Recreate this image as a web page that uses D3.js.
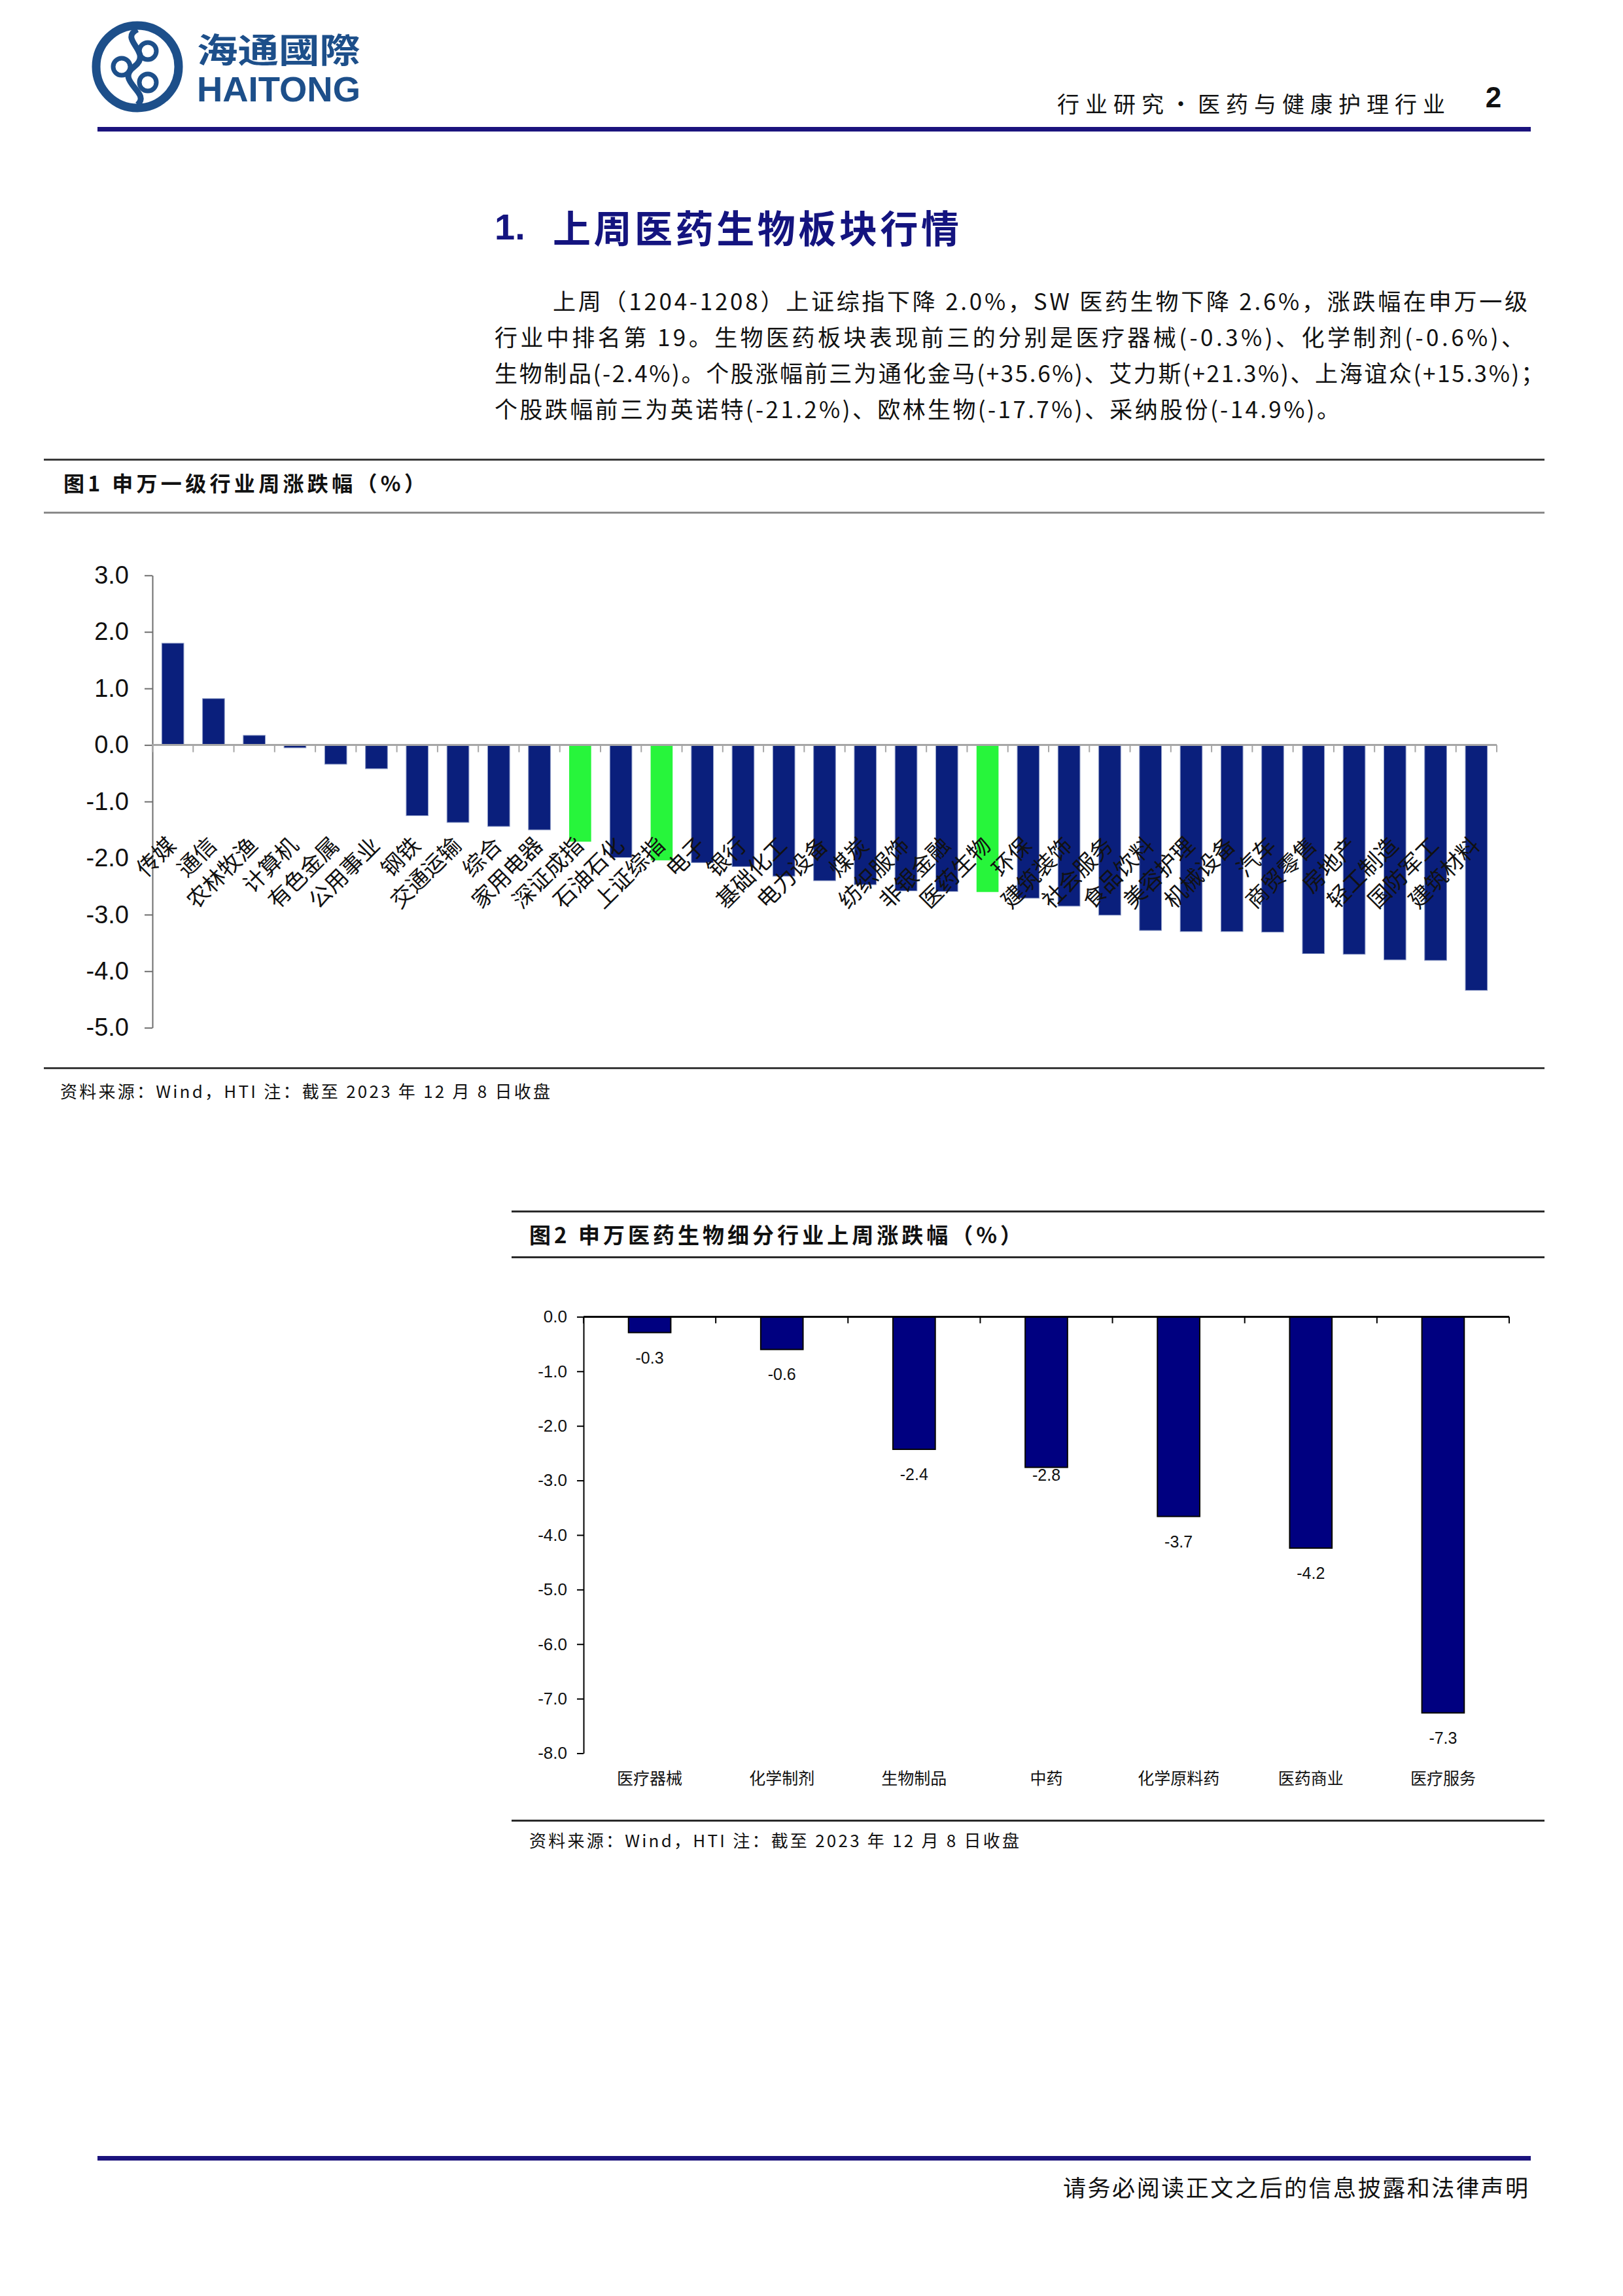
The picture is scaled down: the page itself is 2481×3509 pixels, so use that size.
<!DOCTYPE html>
<html>
<head>
<meta charset="utf-8">
<script src="https://cdn.jsdelivr.net/npm/d3@7/dist/d3.min.js"></script>
<style>
  html, body { margin: 0; padding: 0; background: #ffffff; }
  svg { display: block; }
</style>
</head>
<body>
<script>
// ---------------- DATA ----------------
const industries = ["传媒","通信","农林牧渔","计算机","有色金属","公用事业","钢铁","交通运输","综合","家用电器",
  "深证成指","石油石化","上证综指","电子","银行","基础化工","电力设备","煤炭","纺织服饰","非银金融",
  "医药生物","环保","建筑装饰","社会服务","食品饮料","美容护理","机械设备","汽车","商贸零售","房地产",
  "轻工制造","国防军工","建筑材料"];
const industryChange = [1.80,0.82,0.17,-0.05,-0.34,-0.42,-1.25,-1.37,-1.44,-1.50,
  -1.71,-1.99,-2.04,-2.08,-2.15,-2.32,-2.40,-2.47,-2.58,-2.59,
  -2.60,-2.71,-2.85,-3.01,-3.28,-3.30,-3.30,-3.31,-3.69,-3.70,
  -3.80,-3.81,-4.34];
const highlighted = ["深证成指","上证综指","医药生物"];
const yTicks1 = [3,2,1,0,-1,-2,-3,-4,-5];

const subIndustries = ["医疗器械","化学制剂","生物制品","中药","化学原料药","医药商业","医疗服务"];
const subChange = [-0.29,-0.60,-2.43,-2.76,-3.66,-4.24,-7.26];
const yTicks2 = [0,-1,-2,-3,-4,-5,-6,-7,-8];

const headerRight = "行业研究•医药与健康护理行业";
const pageNumber = "2";
const sectionNumber = "1.";
const sectionTitle = "上周医药生物板块行情";
const paragraphLines = [
  "上周（1204-1208）上证综指下降 2.0%，SW 医药生物下降 2.6%，涨跌幅在申万一级",
  "行业中排名第 19。生物医药板块表现前三的分别是医疗器械(-0.3%)、化学制剂(-0.6%)、",
  "生物制品(-2.4%)。个股涨幅前三为通化金马(+35.6%)、艾力斯(+21.3%)、上海谊众(+15.3%)；",
  "个股跌幅前三为英诺特(-21.2%)、欧林生物(-17.7%)、采纳股份(-14.9%)。"
];
const fig1Title = "图1  申万一级行业周涨跌幅（%）";
const fig2Title = "图2  申万医药生物细分行业上周涨跌幅（%）";
const sourceNote = "资料来源：Wind，HTI 注：截至 2023 年 12 月 8 日收盘";
const footerText = "请务必阅读正文之后的信息披露和法律声明";

// ---------------- PAGE ----------------
const W = 2481, H = 3509;
const CJK = "'Noto Sans CJK SC', 'Noto Sans', sans-serif";
const NUM = "'Liberation Sans', Arial, sans-serif";
const svg = d3.select("body").append("svg").attr("width", W).attr("height", H)
  .attr("viewBox", `0 0 ${W} ${H}`);
svg.append("rect").attr("width", W).attr("height", H).attr("fill", "#fff");

// ---- Logo ----
const logoBlue = "#1d4f8a";
const logo = svg.append("g");
logo.append("circle").attr("cx", 210).attr("cy", 102).attr("r", 63)
  .attr("fill", "none").attr("stroke", logoBlue).attr("stroke-width", 13);
logo.append("path")
  .attr("d", "M210,45 C180,60 235,80 205,102 C175,124 232,142 210,160")
  .attr("fill", "none").attr("stroke", logoBlue).attr("stroke-width", 9);
[[186,102],[226,78],[226,126]].forEach(([cx,cy]) => {
  logo.append("circle").attr("cx", cx).attr("cy", cy).attr("r", 13)
    .attr("fill", "none").attr("stroke", logoBlue).attr("stroke-width", 7);
});
logo.append("text").attr("x", 301).attr("y", 96).text("海通國際")
  .attr("font-family", CJK).attr("font-weight", 700).attr("font-size", 52)
  .attr("fill", logoBlue).attr("textLength", 250).attr("lengthAdjust", "spacingAndGlyphs");
logo.append("text").attr("x", 301).attr("y", 155).text("HAITONG")
  .attr("font-family", NUM).attr("font-weight", 700).attr("font-size", 54)
  .attr("fill", logoBlue).attr("textLength", 250).attr("lengthAdjust", "spacingAndGlyphs");

// ---- header right ----
svg.append("text").attr("x", 1616).attr("y", 157).text(headerRight)
  .attr("font-family", CJK).attr("font-size", 34).attr("dominant-baseline", "central")
  .attr("textLength", 593).attr("lengthAdjust", "spacing").attr("fill", "#111");
svg.append("text").attr("x", 2283).attr("y", 148).text(pageNumber)
  .attr("text-anchor", "middle").attr("dominant-baseline", "central")
  .attr("font-family", NUM).attr("font-weight", 700).attr("font-size", 44).attr("fill", "#111");
svg.append("rect").attr("x", 149).attr("y", 194).attr("width", 2191).attr("height", 7).attr("fill", "#1b137d");

// ---- section heading ----
const headColor = "#14147f";
svg.append("text").attr("x", 756).attr("y", 346).text(sectionNumber)
  .attr("font-family", NUM).attr("font-weight", 700).attr("font-size", 56)
  .attr("dominant-baseline", "central").attr("fill", headColor);
svg.append("text").attr("x", 845).attr("y", 346).text(sectionTitle)
  .attr("font-family", CJK).attr("font-weight", 700).attr("font-size", 58)
  .attr("dominant-baseline", "central").attr("fill", headColor)
  .attr("textLength", 621).attr("lengthAdjust", "spacing");

// ---- paragraph ----
const paraX = [845, 756, 756, 756];
const paraEnd = [2335, 2330, 2360, 2048];
const paraY = [458, 513, 568, 623];
paragraphLines.forEach((t, i) => {
  svg.append("text").attr("x", paraX[i]).attr("y", paraY[i]).text(t)
    .attr("font-family", CJK).attr("font-size", 35).attr("dominant-baseline", "central")
    .attr("fill", "#111").attr("textLength", paraEnd[i] - paraX[i]).attr("lengthAdjust", "spacing");
});

// ================= FIGURE 1 =================
svg.append("rect").attr("x", 67).attr("y", 701).attr("width", 2294).attr("height", 3).attr("fill", "#3a3a3a");
svg.append("text").attr("x", 97).attr("y", 737).text(fig1Title)
  .attr("font-family", CJK).attr("font-weight", 700).attr("font-size", 32)
  .attr("dominant-baseline", "central").attr("fill", "#111")
  .attr("textLength", 553).attr("lengthAdjust", "spacing");
svg.append("rect").attr("x", 67).attr("y", 782).attr("width", 2294).attr("height", 3).attr("fill", "#8a8a8a");

const x1 = d3.scaleBand().domain(industries).range([233, 2288]).paddingInner(0.46).paddingOuter(0.23);
const y1 = d3.scaleLinear().domain([-5, 3]).range([1570.7, 879.3]);
const g1 = svg.append("g");

// bars
g1.selectAll("rect.bar").data(industries).join("rect").attr("class", "bar")
  .attr("x", d => x1(d))
  .attr("width", x1.bandwidth())
  .attr("y", (d, i) => y1(Math.max(0, industryChange[i])))
  .attr("height", (d, i) => Math.abs(y1(industryChange[i]) - y1(0)))
  .attr("fill", d => highlighted.includes(d) ? "#27f53b" : "#0a1f7c")
  .attr("stroke", d => highlighted.includes(d) ? "none" : "#8d9bc6")
  .attr("stroke-width", 1);

// y axis
const yAxis1 = g1.append("g").attr("transform", "translate(233,0)")
  .call(d3.axisLeft(y1).tickValues(yTicks1).tickSize(12).tickSizeOuter(0).tickPadding(24)
    .tickFormat(d => d.toFixed(1)));
yAxis1.select(".domain").attr("stroke", "#6e6e6e").attr("stroke-width", 2);
yAxis1.selectAll(".tick line").attr("stroke", "#6e6e6e").attr("stroke-width", 2);
yAxis1.selectAll(".tick text").attr("font-family", NUM).attr("font-size", 38).attr("fill", "#111");

// category axis at zero
const step1 = x1.step();
g1.append("line").attr("x1", 233).attr("x2", 2288).attr("y1", y1(0)).attr("y2", y1(0))
  .attr("stroke", "#a6a6a6").attr("stroke-width", 3);
g1.selectAll("line.ctick").data(d3.range(industries.length + 1)).join("line").attr("class", "ctick")
  .attr("x1", i => 233 + i * step1).attr("x2", i => 233 + i * step1)
  .attr("y1", y1(0)).attr("y2", y1(0) + 11)
  .attr("stroke", "#a6a6a6").attr("stroke-width", 2);

// category labels (rotated)
g1.selectAll("text.clabel").data(industries).join("text").attr("class", "clabel")
  .attr("transform", d => `translate(${x1(d) + x1.bandwidth() / 2 - 3},1284) rotate(-45)`)
  .attr("text-anchor", "end").attr("dominant-baseline", "central")
  .attr("font-family", CJK).attr("font-size", 34).attr("fill", "#111")
  .text(d => d);

svg.append("rect").attr("x", 67).attr("y", 1631).attr("width", 2294).attr("height", 3).attr("fill", "#3a3a3a");
svg.append("text").attr("x", 92).attr("y", 1666).text(sourceNote)
  .attr("font-family", CJK).attr("font-size", 26).attr("dominant-baseline", "central")
  .attr("fill", "#111").attr("textLength", 749).attr("lengthAdjust", "spacing");

// ================= FIGURE 2 =================
svg.append("rect").attr("x", 782).attr("y", 1850).attr("width", 1579).attr("height", 3).attr("fill", "#2a2a2a");
svg.append("text").attr("x", 809).attr("y", 1886).text(fig2Title)
  .attr("font-family", CJK).attr("font-weight", 700).attr("font-size", 33)
  .attr("dominant-baseline", "central").attr("fill", "#111")
  .attr("textLength", 753).attr("lengthAdjust", "spacing");
svg.append("rect").attr("x", 782).attr("y", 1920).attr("width", 1579).attr("height", 3).attr("fill", "#2a2a2a");

const x2 = d3.scaleBand().domain(subIndustries).range([892, 2307]).paddingInner(0.68).paddingOuter(0.34);
const y2 = d3.scaleLinear().domain([-8, 0]).range([2679.5, 2012.4]);
const g2 = svg.append("g");

g2.selectAll("rect.bar").data(subIndustries).join("rect").attr("class", "bar")
  .attr("x", d => x2(d))
  .attr("width", x2.bandwidth())
  .attr("y", y2(0))
  .attr("height", (d, i) => y2(subChange[i]) - y2(0))
  .attr("fill", "#000080").attr("stroke", "#000").attr("stroke-width", 2);

// value labels sit below bar ends; the 中药 label is nudged up as in the source chart
const labelNudge = { "中药": -27 };
g2.selectAll("text.vlabel").data(subIndustries).join("text").attr("class", "vlabel")
  .attr("x", d => x2(d) + x2.bandwidth() / 2)
  .attr("y", (d, i) => y2(subChange[i]) + 38 + (labelNudge[d] || 0))
  .attr("text-anchor", "middle").attr("dominant-baseline", "central")
  .attr("font-family", NUM).attr("font-size", 25).attr("fill", "#111")
  .text((d, i) => subChange[i].toFixed(1));

const yAxis2 = g2.append("g").attr("transform", "translate(892,0)")
  .call(d3.axisLeft(y2).tickValues(yTicks2).tickSize(10).tickSizeOuter(0).tickPadding(15)
    .tickFormat(d => d.toFixed(1)));
yAxis2.select(".domain").attr("stroke", "#000").attr("stroke-width", 2);
yAxis2.selectAll(".tick line").attr("stroke", "#000").attr("stroke-width", 2);
yAxis2.selectAll(".tick text").attr("font-family", NUM).attr("font-size", 26).attr("fill", "#111");

const step2 = x2.step();
g2.append("line").attr("x1", 892).attr("x2", 2307).attr("y1", y2(0)).attr("y2", y2(0))
  .attr("stroke", "#000").attr("stroke-width", 3);
g2.selectAll("line.ctick").data(d3.range(subIndustries.length + 1)).join("line").attr("class", "ctick")
  .attr("x1", i => 892 + i * step2).attr("x2", i => 892 + i * step2)
  .attr("y1", y2(0)).attr("y2", y2(0) + 10)
  .attr("stroke", "#000").attr("stroke-width", 2);

g2.selectAll("text.clabel").data(subIndustries).join("text").attr("class", "clabel")
  .attr("x", d => x2(d) + x2.bandwidth() / 2).attr("y", 2716)
  .attr("text-anchor", "middle").attr("dominant-baseline", "central")
  .attr("font-family", CJK).attr("font-size", 25).attr("fill", "#111")
  .text(d => d);

svg.append("rect").attr("x", 782).attr("y", 2781).attr("width", 1579).attr("height", 3).attr("fill", "#2a2a2a");
svg.append("text").attr("x", 809).attr("y", 2811).text(sourceNote)
  .attr("font-family", CJK).attr("font-size", 26).attr("dominant-baseline", "central")
  .attr("fill", "#111").attr("textLength", 749).attr("lengthAdjust", "spacing");

// ---- footer ----
svg.append("rect").attr("x", 149).attr("y", 3295).attr("width", 2191).attr("height", 7).attr("fill", "#1b137d");
svg.append("text").attr("x", 2336).attr("y", 3341).text(footerText)
  .attr("text-anchor", "end").attr("dominant-baseline", "central")
  .attr("font-family", CJK).attr("font-size", 35).attr("fill", "#111")
  .attr("textLength", 711).attr("lengthAdjust", "spacing");
</script>
</body>
</html>
